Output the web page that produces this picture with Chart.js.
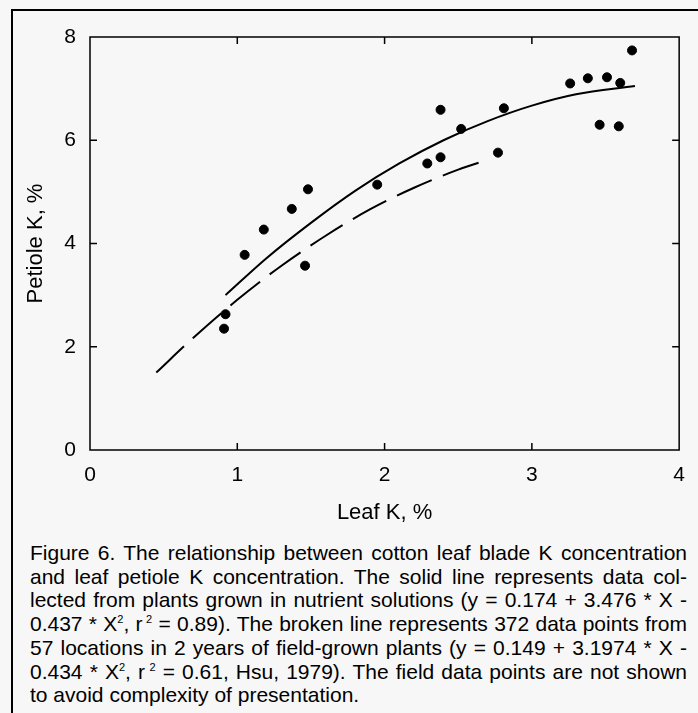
<!DOCTYPE html>
<html>
<head>
<meta charset="utf-8">
<script src="https://cdn.jsdelivr.net/npm/chart.js@4.4.1/dist/chart.umd.min.js"></script>
<style>
    body { margin: 0; background: #f7f7f7; }
    #wrap { position: relative; width: 698px; height: 713px; overflow: hidden; background: #f7f7f7; }
    #frame { position: absolute; left: 11px; top: 9px; width: 740px; height: 740px; border: 2px solid #000; }
    #chartBox { position: absolute; left: 0; top: 0; width: 698px; height: 540px; }
    #caption { position: absolute; left: 30px; top: 541px; width: 657px; font-family: "Liberation Sans", Arial, sans-serif; font-size: 21px; line-height: 23.7px; color: #000; }
    #caption div { white-space: nowrap; text-align: justify; text-align-last: justify; }
    #caption div.last { text-align: left; text-align-last: left; }
    #caption sup { font-size: 11px; line-height: 0; vertical-align: 8px; }
</style>
</head>
<body>
<div id="wrap">
    <div id="frame"></div>
    <div id="chartBox"><canvas id="leafChart" width="698" height="540"></canvas></div>
    <div id="caption">
        <div>Figure 6. The relationship between cotton leaf blade K concentration</div>
        <div>and leaf petiole K concentration. The solid line represents data col-</div>
        <div>lected from plants grown in nutrient solutions (y = 0.174 + 3.476 * X -</div>
        <div>0.437 * X<sup>2</sup>, r<sup>&nbsp;2</sup> = 0.89). The broken line represents 372 data points from</div>
        <div>57 locations in 2 years of field-grown plants (y = 0.149 + 3.1974 * X -</div>
        <div>0.434 * X<sup>2</sup>, r<sup>&nbsp;2</sup> = 0.61, Hsu, 1979). The field data points are not shown</div>
        <div class="last">to avoid complexity of presentation.</div>
    </div>
</div>
<script>
// measured points (nutrient solution plants)
const leafK = [0.92, 0.91, 1.05, 1.18, 1.37, 1.48, 1.46, 1.95, 2.29, 2.38, 2.38, 2.52, 2.77, 2.81, 3.26, 3.38, 3.51, 3.60, 3.46, 3.59, 3.68];
const petioleK = [2.63, 2.35, 3.78, 4.27, 4.67, 5.05, 3.57, 5.14, 5.55, 5.67, 6.59, 6.22, 5.76, 6.62, 7.10, 7.20, 7.22, 7.11, 6.30, 6.27, 7.74];

// solid line
const solidX = [0.92, 1.2, 1.5, 1.8, 2.1, 2.4, 2.7, 3.0, 3.3, 3.7];
const solidY = [3.00, 3.72, 4.40, 5.02, 5.55, 6.00, 6.37, 6.67, 6.89, 7.05];

// broken line (field data)
const brokenX = [0.45, 0.7, 1.0, 1.3, 1.6, 1.9, 2.2, 2.5, 2.7];
const brokenY = [1.50, 2.17, 2.91, 3.57, 4.15, 4.66, 5.08, 5.43, 5.62];

const xMin = 0, xMax = 4, xStep = 1;
const yMin = 0, yMax = 8, yStep = 2;

function toXY(xs, ys) {
    return xs.map((x, i) => ({ x: x, y: ys[i] }));
}

// frame round the plot and inward ticks on all four sides
const framePlugin = {
    id: "frame",
    afterDraw(chart) {
        const ctx = chart.ctx;
        const a = chart.chartArea;
        const xs = chart.scales.x;
        const ys = chart.scales.y;
        const len = 7;
        ctx.save();
        ctx.strokeStyle = "#000";
        ctx.lineWidth = 1.5;
        ctx.strokeRect(a.left, a.top, a.right - a.left, a.bottom - a.top);
        ctx.beginPath();
        xs.ticks.forEach(t => {
            if (t.value <= xMin || t.value >= xMax) return;
            const px = xs.getPixelForValue(t.value);
            ctx.moveTo(px, a.bottom); ctx.lineTo(px, a.bottom - len);
            ctx.moveTo(px, a.top); ctx.lineTo(px, a.top + len);
        });
        ys.ticks.forEach(t => {
            if (t.value <= yMin || t.value >= yMax) return;
            const py = ys.getPixelForValue(t.value);
            ctx.moveTo(a.left, py); ctx.lineTo(a.left + len, py);
            ctx.moveTo(a.right, py); ctx.lineTo(a.right - len, py);
        });
        ctx.stroke();
        ctx.restore();
    }
};

const tickFont = { family: "Liberation Sans, Arial, sans-serif", size: 21 };
const titleFont = { family: "Liberation Sans, Arial, sans-serif", size: 22 };

new Chart(document.getElementById("leafChart"), {
    type: "scatter",
    data: {
        datasets: [
            {
                label: "Nutrient solution",
                data: toXY(leafK, petioleK),
                backgroundColor: "#000",
                borderColor: "#000",
                pointRadius: 4.5,
                pointHoverRadius: 4.5
            },
            {
                label: "Solid line",
                data: toXY(solidX, solidY),
                showLine: true,
                borderColor: "#000",
                borderWidth: 2,
                pointRadius: 0,
                cubicInterpolationMode: "monotone"
            },
            {
                label: "Broken line",
                data: toXY(brokenX, brokenY),
                showLine: true,
                borderColor: "#000",
                borderWidth: 2,
                borderDash: [38, 12],
                pointRadius: 0,
                cubicInterpolationMode: "monotone"
            }
        ]
    },
    options: {
        responsive: false,
        animation: false,
        events: [],
        layout: { padding: { top: 37, right: 15, left: 0, bottom: 0 } },
        plugins: { legend: { display: false }, tooltip: { enabled: false } },
        scales: {
            x: {
                type: "linear",
                min: xMin,
                max: xMax,
                ticks: { stepSize: xStep, color: "#000", font: tickFont, padding: 13 },
                grid: { display: false, drawTicks: false },
                border: { display: false },
                title: { display: true, text: "Leaf K, %", color: "#000", font: titleFont, padding: { top: 0, bottom: 14 } },
                afterFit: s => { s.height = 90; }
            },
            y: {
                type: "linear",
                min: yMin,
                max: yMax,
                ticks: { stepSize: yStep, color: "#000", font: tickFont, padding: 14 },
                grid: { display: false, drawTicks: false },
                border: { display: false },
                title: { display: true, text: "Petiole K, %", color: "#000", font: titleFont, padding: { top: 23, bottom: 0 } },
                afterFit: s => { s.width = 90; }
            }
        }
    },
    plugins: [framePlugin]
});
</script>
</body>
</html>
